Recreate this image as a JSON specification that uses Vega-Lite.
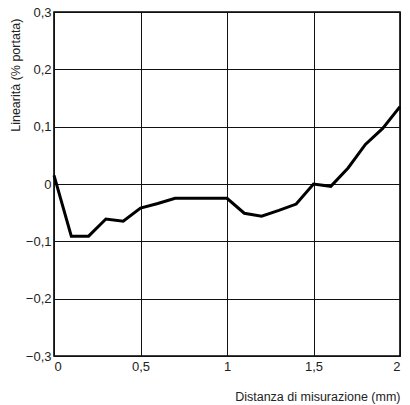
{
  "$schema": "https://vega.github.io/schema/vega-lite/v6.json",
  "width": 346,
  "height": 344,
  "autosize": {"type": "none"},
  "padding": {"left": 54, "top": 12, "right": 10, "bottom": 49},
  "background": "white",
  "config": {
    "view": {"stroke": "#000", "strokeWidth": 1.6},
    "font": "Liberation Sans",
    "axis": {
      "labelFont": "Liberation Sans",
      "titleFont": "Liberation Sans",
      "labelFontSize": 13,
      "titleFontSize": 12.5,
      "labelColor": "#222",
      "titleColor": "#222",
      "titleFontWeight": "normal",
      "ticks": false,
      "domain": false,
      "gridColor": "#111",
      "gridOpacity": 1,
      "gridWidth": 1
    }
  },
  "data": {
    "values": [
      {"x": 0.0, "y": 0.015},
      {"x": 0.1, "y": -0.091},
      {"x": 0.2, "y": -0.091},
      {"x": 0.3, "y": -0.061},
      {"x": 0.4, "y": -0.065},
      {"x": 0.5, "y": -0.042},
      {"x": 0.6, "y": -0.034},
      {"x": 0.7, "y": -0.025},
      {"x": 0.8, "y": -0.025},
      {"x": 0.9, "y": -0.025},
      {"x": 1.0, "y": -0.025},
      {"x": 1.1, "y": -0.051},
      {"x": 1.2, "y": -0.056},
      {"x": 1.3, "y": -0.046},
      {"x": 1.4, "y": -0.035},
      {"x": 1.5, "y": 0.0},
      {"x": 1.6, "y": -0.004},
      {"x": 1.7, "y": 0.028},
      {"x": 1.8, "y": 0.069},
      {"x": 1.9, "y": 0.097},
      {"x": 2.0, "y": 0.135}
    ]
  },
  "mark": {"type": "line", "color": "#000", "strokeWidth": 3, "strokeJoin": "miter"},
  "encoding": {
    "x": {
      "field": "x",
      "type": "quantitative",
      "scale": {"domain": [0, 2], "nice": false},
      "axis": {
        "values": [0, 0.5, 1, 1.5, 2],
        "labelExpr": "replace(format(datum.value, ''), '.', ',')",
        "labelFlush": true,
        "labelPadding": 4,
        "title": "Distanza di misurazione (mm)",
        "titleX": 346,
        "titleY": 40,
        "titleAlign": "right",
        "titleBaseline": "middle"
      }
    },
    "y": {
      "field": "y",
      "type": "quantitative",
      "scale": {"domain": [-0.3, 0.3], "nice": false},
      "axis": {
        "values": [-0.3, -0.2, -0.1, 0, 0.1, 0.2, 0.3],
        "labelExpr": "replace(format(datum.value, ''), '.', ',')",
        "labelPadding": 3,
        "title": "Linearità (% portata)",
        "titleAngle": -90,
        "titleX": -39,
        "titleY": 6,
        "titleAlign": "right",
        "titleBaseline": "middle"
      }
    }
  }
}
